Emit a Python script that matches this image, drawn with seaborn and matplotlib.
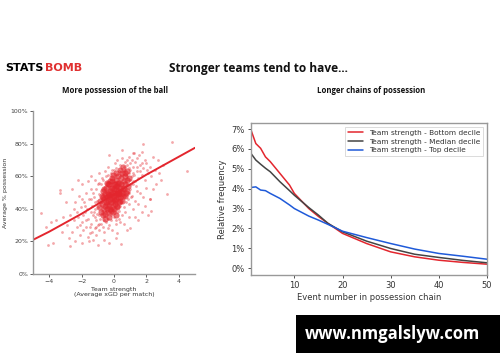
import numpy as np
import pandas as pd
import matplotlib
matplotlib.use("Agg")
import matplotlib.pyplot as plt
from matplotlib.patches import Rectangle
from matplotlib.ticker import FuncFormatter
import seaborn as sns

sns.set_theme(style="ticks")
plt.rcParams["font.family"] = ["DejaVu Sans"]

# --- left panel: team strength vs possession ---
core_x = [-0.92, -0.85, -0.81, -0.77, -0.74, -0.7, -0.68, -0.64, -0.61, -0.58, -0.55, -0.53, -0.5, -0.48,
          -0.46, -0.43, -0.41, -0.39, -0.36, -0.34, -0.32, -0.3, -0.28, -0.26, -0.24, -0.22, -0.2, -0.18,
          -0.16, -0.14, -0.12, -0.1, -0.08, -0.06, -0.04, -0.02, 0.0, 0.02, 0.04, 0.06, 0.08, 0.1, 0.12,
          0.14, 0.16, 0.18, 0.2, 0.22, 0.24, 0.26, 0.28, 0.3, 0.33, 0.36, 0.39, 0.42, 0.45, 0.48, 0.51,
          0.54, 0.57, 0.6, 0.63, 0.66, 0.7, 0.74, 0.78, 0.82, 0.86, 0.9, -0.6, -0.45, -0.3, -0.15, 0.0,
          0.1, 0.2, 0.35, 0.5, 0.65, 0.8, -0.05, -0.25, -0.55, 0.15, 0.4, 0.55, 0.05, -0.1, -0.35, 0.25,
          0.3, -0.2, 0.45, -0.65, 0.7, -0.4, 0.12, -0.02, 0.22]
core_y = [41, 45, 38, 48, 43, 36, 51, 40, 46, 42, 49, 37, 44, 53,
          40, 47, 43, 50, 38, 45, 55, 42, 48, 51, 40, 46, 44, 53,
          49, 41, 47, 57, 44, 50, 38, 46, 52, 48, 43, 55, 50, 46, 58,
          52, 41, 49, 54, 47, 60, 51, 44, 56, 50, 53, 47, 59, 55, 50, 62,
          53, 48, 57, 52, 60, 55, 50, 58, 63, 54, 59, 52, 56, 35, 59, 40,
          62, 42, 45, 45, 48, 51, 61, 57, 34, 36, 64, 66, 45, 53, 49, 56,
          49, 39, 51, 47, 62, 55, 54, 55, 50]

outer_x = [-1.0, -1.1, -1.2, -1.3, -1.4, -1.5, -1.6, -1.7, -1.8, -1.9, -2.0, -2.1, -2.2, -2.3, -2.5, -2.6,
           -1.05, -1.15, -1.25, -1.35, -1.45, -1.55, -1.65, -1.75, -1.85, -1.95, -2.05, -2.15, -2.4,
           -1.0, -1.2, -1.4, -1.6, -1.1, -1.3, -1.5, -0.9, -0.8, -0.7, -0.6, -0.5, -0.4, -0.3, -0.2,
           -0.1, 0.1, 0.2, 0.3, -0.95, -0.75, -0.55, -0.35, -0.15, 0.05, 0.2, 0.35, 0.5, 0.65, 0.8,
           0.95, 1.1, 1.25, 1.4, 1.55, 1.7, 1.0, 1.1, 1.2, 1.3, 1.4, 1.5, 1.6, 1.7, 1.8, 1.9, 2.0,
           2.1, 2.2, 2.3, 2.5, 1.0, 1.1, 1.2, 1.3, 1.4, 1.5, 1.6, 1.8, 2.0, 2.2, 2.27, 1.7, 1.2, 0.9,
           0.7, 0.5, 0.3, 0.6, 0.9, 1.0, 0.45, -1.0, -0.6, 0.1,
           1.8, 3.6, 4.5, -4.5, -4.07, -3.75, -2.7, -3.35, -3.35, 1.17, 3.3, 2.2, -2.98, -3.55, -3.15,
           -2.9, -2.8, -3.2, -2.4, -2.0, 2.7, 2.9, 3.0, 2.6, -4.2, -3.9, 2.4, 0.5, -0.3, -2.2, -2.6,
           1.5, 2.1, -1.2, -1.45, -1.7, -1.9, -2.1, -1.35, -1.6, -0.85, -1.05, 0.6, 0.8, 1.0, 1.3,
           0.9, 0.7, 1.15,
           -1.3, -1.1, -0.95, -0.9, -1.2, -1.0, -0.95, -1.4, -1.25, -0.8, -0.7, -0.5, -0.4, -0.2, 0.0,
           0.15, 0.3, 0.45, 0.6, 0.75, 0.9, 1.0, 1.05, 1.15, 1.25, 1.35, 0.95, 1.05, 0.85, 0.75, 0.6,
           0.4, 0.2, 0.0, -0.2, -0.4, -0.6, -0.75, -0.9, -1.1, 0.1, 0.35, 0.55, 1.45, 1.6, 1.75, 1.9,
           2.05, -1.8, -2.0, -2.3, -2.5, -2.7, -1.55, -0.3, 0.8, 1.3, 1.9, 2.4, 2.8]
outer_y = [30, 33, 28, 36, 31, 25, 34, 29, 38, 27, 32, 24, 35, 29, 40, 26,
           45, 40, 47, 42, 52, 46, 40, 50, 44, 55, 41, 48, 44,
           55, 58, 60, 57, 24, 21, 29, 27, 31, 29, 26, 32, 28, 30, 33,
           27, 31, 25, 34, 62, 59, 63, 66, 64, 68, 70, 67, 71, 69, 67,
           72, 70, 74, 71, 73, 75, 64, 60, 66, 57, 63, 59, 67, 61, 65, 58, 68,
           62, 66, 60, 64, 52, 48, 55, 45, 51, 43, 50, 47, 53, 46, 39, 38, 40, 43,
           38, 36, 39, 31, 35, 28, 18.4, 17.6, 21, 22,
           79.6, 81.2, 63.2, 37.2, 17.6, 18.8, 17.2, 51.5, 49.5, 74, 49, 46, 44.4, 33, 35,
           30, 22, 26, 20, 19, 70, 58, 67, 55, 29, 32, 72, 76, 73, 58, 52,
           33, 36, 35, 38, 33, 36, 30, 26, 23, 34, 37, 66, 70, 68, 69,
           65, 64, 62,
           50, 52, 56, 49, 44, 41, 36, 46, 38, 55, 58, 60, 61, 62, 64,
           65, 63, 61, 63, 61, 62, 58, 55, 57, 61, 54, 50, 47, 46, 44, 41,
           42, 38, 35, 36, 34, 33, 39, 31, 29, 33, 32, 48, 66, 63, 68, 70,
           64, 42, 46, 38, 33, 36, 20.5, 19, 27, 35, 42, 52, 62]

fit_x = [-5, -4, -3, -2, -1, 0, 1, 2, 3, 4, 5]
fit_y = [21, 26, 31.5, 37, 43, 49, 55, 61, 66.5, 72, 77.5]

# --- right panel: chain length distributions (% per event number) ---
event_n = [1, 2, 3, 4, 5, 7, 9, 10, 13, 15, 17, 20, 25, 30, 35, 40, 45, 50]
bottom_decile = [6.95, 6.27, 6.03, 5.6, 5.36, 4.77, 4.18, 3.76, 3.0, 2.6, 2.25, 1.75, 1.24, 0.82, 0.57, 0.40, 0.29, 0.20]
median_decile = [5.77, 5.44, 5.23, 5.03, 4.85, 4.35, 3.9, 3.67, 3.05, 2.67, 2.25, 1.83, 1.36, 0.99, 0.70, 0.54, 0.39, 0.27]
top_decile = [4.06, 4.09, 3.93, 3.9, 3.76, 3.51, 3.18, 3.0, 2.62, 2.42, 2.2, 1.86, 1.54, 1.24, 0.96, 0.74, 0.60, 0.45]

red = "#e3262e"
fig = plt.figure(figsize=(5, 3.62), dpi=100)
fig.patch.set_facecolor("white")

# left
ax1 = fig.add_axes([0.066, 0.243, 0.324, 0.450])
sns.scatterplot(x=outer_x, y=outer_y, ax=ax1, color=red, s=4, alpha=0.4, linewidth=0)
sns.scatterplot(x=core_x, y=core_y, ax=ax1, color=red, s=20, alpha=0.65, linewidth=0)
sns.lineplot(x=fit_x, y=fit_y, ax=ax1, color=red, linewidth=1.4)
ax1.set_xlim(-5, 5)
ax1.set_ylim(0, 100)
ax1.set_xticks([-4, -2, 0, 2, 4])
ax1.set_yticks([0, 20, 40, 60, 80, 100])
ax1.yaxis.set_major_formatter(FuncFormatter(lambda v, p: f"{v:.0f}%"))
ax1.xaxis.set_major_formatter(FuncFormatter(lambda v, p: f"{v:.0f}".replace("-", "\u2212")))
sns.despine(ax=ax1)
for sp in ["left", "bottom"]:
    ax1.spines[sp].set_color("#999999")
    ax1.spines[sp].set_linewidth(1.0)
ax1.tick_params(labelsize=4.5, colors="#444444", length=2, width=0.6, pad=1.5)
ax1.set_xlabel("Team strength\n(Average xGD per match)", fontsize=4.5, color="#333333", labelpad=2)
ax1.set_ylabel("Average % possession", fontsize=4.5, color="#333333", labelpad=2)

# right
ax2 = fig.add_axes([0.502, 0.240, 0.472, 0.420])
df = pd.DataFrame({"n": event_n,
                   "Team strength - Bottom decile": bottom_decile,
                   "Team strength - Median decile": median_decile,
                   "Team strength - Top decile": top_decile})
long = df.melt(id_vars="n", var_name="group", value_name="freq")
sns.lineplot(data=long, x="n", y="freq", hue="group", ax=ax2, linewidth=1.1,
             palette=[red, "#444444", "#1f5ad9"])
ax2.set_xlim(1, 50)
ax2.set_ylim(-0.35, 7.3)
ax2.set_xticks([10, 20, 30, 40, 50])
ax2.set_yticks(range(0, 8))
ax2.yaxis.set_major_formatter(FuncFormatter(lambda v, p: f"{v:.0f}%"))
for sp in ax2.spines.values():
    sp.set_color("#999999")
    sp.set_linewidth(1.0)
ax2.tick_params(labelsize=6, colors="#333333", length=2.5, width=0.6, pad=2)
ax2.set_xlabel("Event number in possession chain", fontsize=6, color="#333333", labelpad=2)
ax2.set_ylabel("Relative frequency", fontsize=6, color="#333333", labelpad=3)
leg = ax2.legend(loc="upper right", fontsize=5.3, frameon=True, handlelength=2.0,
                 borderpad=0.4, labelspacing=0.35, fancybox=False, handletextpad=0.8)
leg.get_frame().set_edgecolor("#cccccc")
leg.get_frame().set_linewidth(0.6)
for t in leg.get_texts():
    t.set_color("#333333")

# headings
fig.text(0.011, 0.812, "STATS", fontsize=8, fontweight="heavy", color="black", va="center")
fig.text(0.089, 0.812, "BOMB", fontsize=8, fontweight="heavy", color="#e03030", va="center")
fig.text(0.516, 0.812, "Stronger teams tend to have...", fontsize=8.6, fontweight="bold",
         ha="center", va="center", color="#111111", family=["Open Sans", "DejaVu Sans"])
fig.text(0.229, 0.749, "More possession of the ball", fontsize=5.6, fontweight="bold",
         ha="center", va="center", color="#111111", family=["Open Sans", "DejaVu Sans"])
fig.text(0.743, 0.749, "Longer chains of possession", fontsize=5.6, fontweight="bold",
         ha="center", va="center", color="#111111", family=["Open Sans", "DejaVu Sans"])

# watermark box
fig.patches.append(Rectangle((0.592, 0.025), 0.408, 0.105, transform=fig.transFigure,
                             facecolor="black", edgecolor="none", zorder=5))
fig.text(0.784, 0.077, "www.nmgalslyw.com", fontsize=12, fontweight="bold", color="white",
         ha="center", va="center", family=["Open Sans", "DejaVu Sans"], zorder=6)

fig.savefig("out.png", dpi=100, facecolor="white")
